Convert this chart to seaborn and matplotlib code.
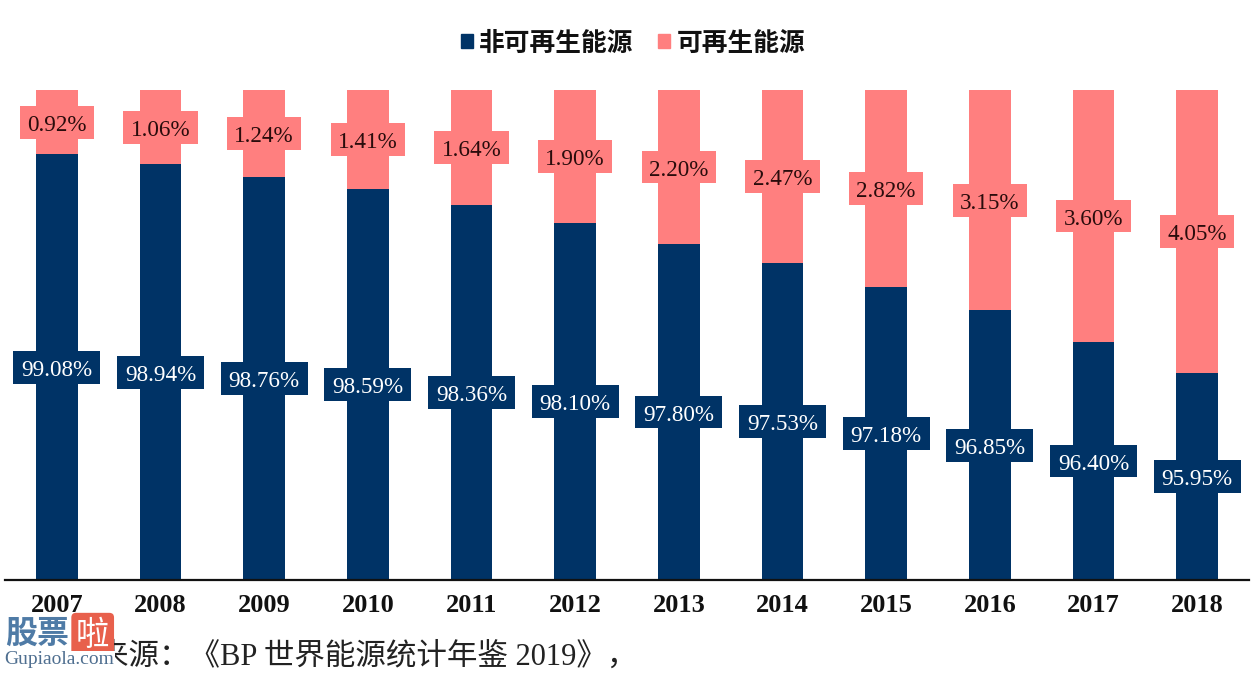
#!/usr/bin/env python3
"""Non-renewable vs renewable energy share, 2007-2018."""

import matplotlib.pyplot as plt
import pandas as pd
import seaborn as sns
from matplotlib.patches import Patch, Rectangle

years = ["2007", "2008", "2009", "2010", "2011", "2012", "2013", "2014", "2015", "2016", "2017", "2018"]
non_renewable = [99.08, 98.94, 98.76, 98.59, 98.36, 98.10, 97.80, 97.53, 97.18, 96.85, 96.40, 95.95]
renewable = [0.92, 1.06, 1.24, 1.41, 1.64, 1.90, 2.20, 2.47, 2.82, 3.15, 3.60, 4.05]

NAVY = "#003366"
PINK = "#ff7f7f"
W, H = 1253, 673
Y_MIN = 93
SERIF = ["Liberation Serif", "Noto Sans CJK SC"]
CJK = ["Noto Sans CJK SC", "DejaVu Sans"]

sns.set_theme(style="white")
plt.rcParams["font.family"] = SERIF

df = pd.DataFrame({"year": years, "non_renewable": non_renewable, "renewable": renewable})
df["total"] = df["non_renewable"] + df["renewable"]

fig = plt.figure(figsize=(W / 100, H / 100), dpi=100, facecolor="white")
ax = fig.add_axes([5 / W, 1 - 580 / H, 1244 / W, 490 / H])

# stacked look: full bar first, lower part on top of it
sns.barplot(data=df, x="year", y="total", color=PINK, saturation=1, width=0.405, linewidth=0, ax=ax)
sns.barplot(data=df, x="year", y="non_renewable", color=NAVY, saturation=1, width=0.405, linewidth=0, ax=ax)
ax.set_ylim(Y_MIN, 100)
ax.set_xlim(-0.5, len(years) - 0.5)
ax.set_xlabel("")
ax.set_ylabel("")
ax.set_yticks([])
ax.tick_params(axis="x", length=0, pad=10)
for label in ax.get_xticklabels():
    label.set_fontsize(19)
    label.set_fontweight("bold")
    label.set_color("#111111")
for side in ["top", "left", "right"]:
    ax.spines[side].set_visible(False)
ax.spines["bottom"].set_linewidth(1.6)
ax.spines["bottom"].set_color("#111111")


def value_label(i, mid, text, fill, box_width, text_color):
    # box and text kept apart so the digits sit in the middle of the box
    ax.add_patch(Rectangle((i - box_width / 2, mid - 0.235), box_width, 0.47, fc=fill, ec="none", zorder=4))
    ax.text(i, mid - 0.045, text, ha="center", va="center", fontsize=16.7, color=text_color, zorder=5)


for i, (low, high) in enumerate(zip(non_renewable, renewable)):
    value_label(i, (Y_MIN + low) / 2, f"{low:.2f}%", NAVY, 0.84, "white")
    value_label(i, low + high / 2, f"{high:.2f}%", PINK, 0.72, "#2a0c0c")

handles = [Patch(color=NAVY, label="非可再生能源"), Patch(color=PINK, label="可再生能源")]
fig.legend(handles=handles, loc="center", bbox_to_anchor=(633 / W, 1 - 43 / H), ncol=2, frameon=False,
           prop={"family": CJK, "size": 18.5, "weight": "bold"}, handlelength=0.47, handleheight=0.47,
           handletextpad=0.25, columnspacing=0.95, labelcolor="#111111")

# source line, start of it is hidden by the watermark
fig.text(98 / W, 1 - 657 / H, "来源：《BP 世界能源统计年鉴 2019》，", fontsize=22, color="#222222",
         va="center", ha="left", family=SERIF)

# watermark
fig.text(5 / W, 1 - 634 / H, "股票", fontsize=23, fontweight="bold", color="#4f7ba6", va="center", ha="left",
         family=CJK, bbox=dict(boxstyle="square,pad=0.02", fc="white", ec="none"))
fig.text(76 / W, 1 - 635 / H, "啦", fontsize=24, color="white", va="center", ha="left", family=CJK,
         bbox=dict(boxstyle="round,pad=0.14", fc="#e8604c", ec="none"))
fig.text(4 / W, 1 - 660 / H, "Gupiaola.com", fontsize=14, color="#4f6f90", va="center", ha="left",
         family=SERIF, bbox=dict(boxstyle="square,pad=0.05", fc="white", ec="none"))

fig.savefig("out.png", dpi=100)
plt.close(fig)
